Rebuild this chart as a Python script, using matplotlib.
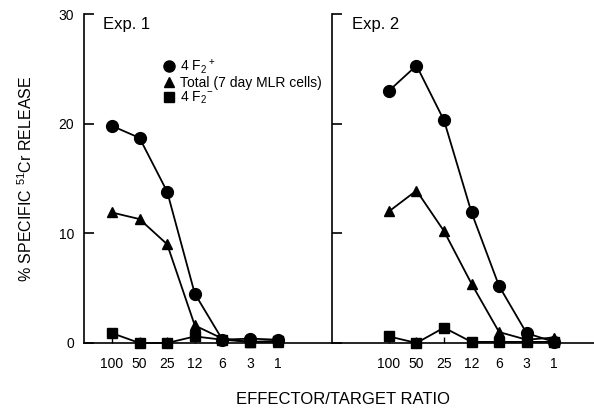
import numpy as np
import matplotlib
matplotlib.use("Agg")
import matplotlib.pyplot as plt
from matplotlib.lines import Line2D

plt.rcParams['font.family'] = ['Liberation Sans', 'DejaVu Sans']
plt.rcParams['mathtext.default'] = 'regular'

# Effector/target ratios (same for both experiments)
ratios = ["100", "50", "25", "12", "6", "3", "1"]

# Exp. 1, % specific 51Cr release
exp1_pos = [19.8, 18.7, 13.8, 4.5, 0.3, 0.4, 0.3]
exp1_total = [11.9, 11.3, 9.0, 1.6, 0.4, 0.1, 0.1]
exp1_neg = [0.9, 0.0, 0.0, 0.6, 0.3, 0.1, 0.2]

# Exp. 2
exp2_pos = [23.0, 25.3, 20.3, 11.9, 5.2, 0.9, 0.1]
exp2_total = [12.0, 13.9, 10.2, 5.4, 1.0, 0.3, 0.5]
exp2_neg = [0.6, 0.0, 1.4, 0.1, 0.1, 0.1, 0.1]

x = np.arange(len(ratios))

fig = plt.figure(figsize=(5.94, 4.09), dpi=100)
ax1 = fig.add_axes([84 / 594, 1 - 343 / 409, (331 - 84) / 594, 329 / 409])
ax2 = fig.add_axes([332 / 594, 1 - 343 / 409, (594 - 332) / 594, 329 / 409])

panels = [
    (ax1, exp1_pos, exp1_total, exp1_neg, "Exp. 1", (-1.01, 7.93)),
    (ax2, exp2_pos, exp2_total, exp2_neg, "Exp. 2", (-2.07, 7.45)),
]

for ax, pos, tot, neg, title, xlim in panels:
    ax.plot(x, pos, '-o', color='k', lw=1.3, ms=8.5, clip_on=False)
    ax.plot(x, tot, '-^', color='k', lw=1.3, ms=7.5, clip_on=False)
    ax.plot(x, neg, '-s', color='k', lw=1.3, ms=7.5, clip_on=False)

    ax.set_xlim(*xlim)
    ax.set_ylim(0, 30)
    ax.set_yticks([0, 10, 20, 30])
    ax.set_xticks(x)
    ax.set_xticklabels(ratios)
    ax.tick_params(axis='y', direction='in', length=7, width=1.2, labelsize=10, pad=7)
    ax.tick_params(axis='x', direction='in', length=4, width=1.0, labelsize=10, pad=10)
    for s in ['top', 'right']:
        ax.spines[s].set_visible(False)
    ax.spines['left'].set_linewidth(1.2)
    ax.spines['bottom'].set_linewidth(1.2)
    ax.text(0.077, 0.967, title, transform=ax.transAxes, fontsize=12, va='center')

ax2.tick_params(axis='y', labelleft=False)

handles = [
    Line2D([], [], color='k', marker='o', ls='none', ms=8),
    Line2D([], [], color='k', marker='^', ls='none', ms=7),
    Line2D([], [], color='k', marker='s', ls='none', ms=7),
]
labels = ["4 F$_2$$^+$", "Total (7 day MLR cells)", "4 F$_2$$^{-}$"]
ax1.legend(handles, labels, loc='upper left', bbox_to_anchor=(0.30, 0.885),
           frameon=False, handlelength=0.8, handletextpad=0.4,
           labelspacing=0.0, fontsize=10, borderaxespad=0)

ax1.set_ylabel("% SPECIFIC $^{51}$Cr RELEASE", fontsize=11.5, labelpad=17)
fig.text(343 / 594, 1 - 400 / 409, "EFFECTOR/TARGET RATIO", ha='center',
         va='center', fontsize=12)

fig.savefig("out.png", dpi=100)
